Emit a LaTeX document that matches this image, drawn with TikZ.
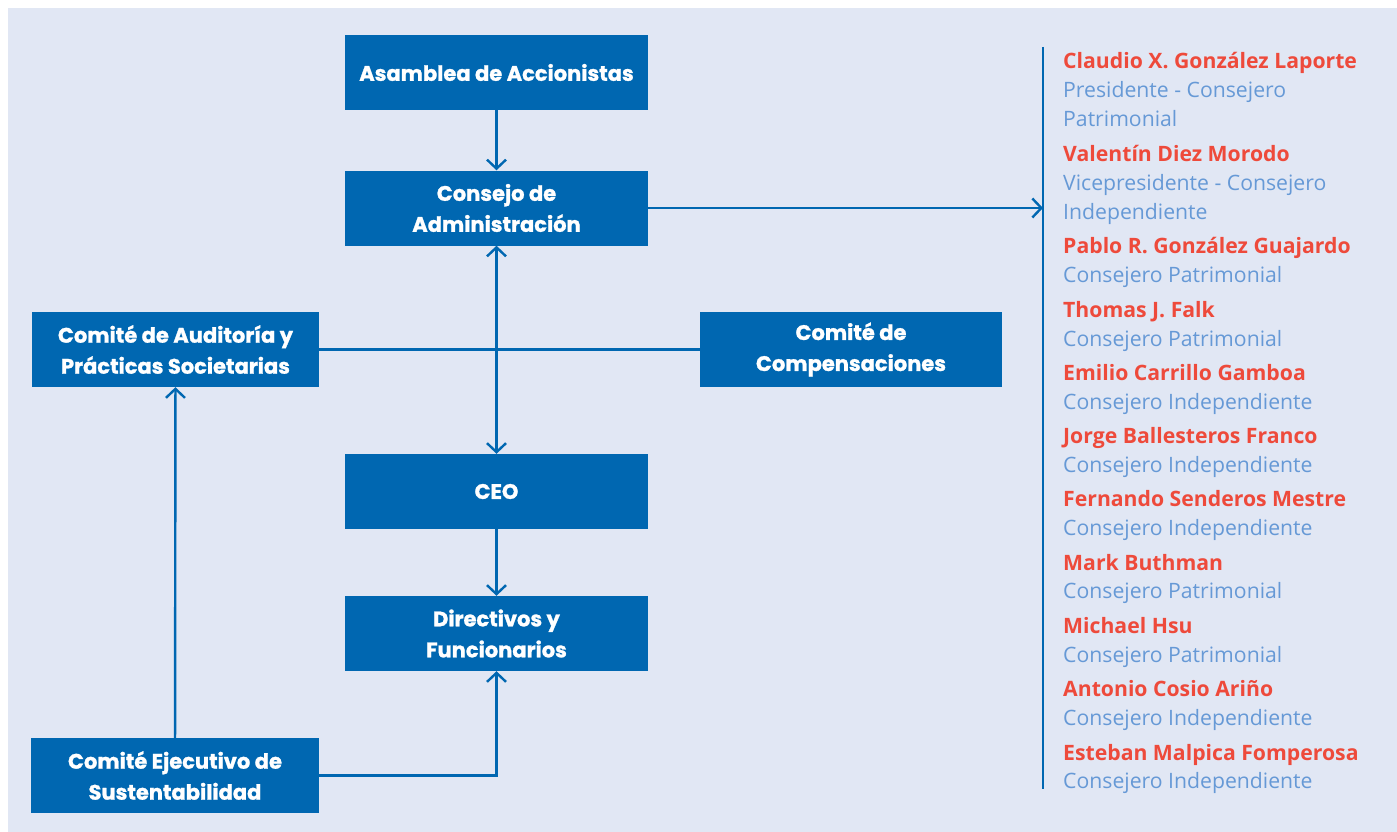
\documentclass[tikz,border=0pt]{standalone}
\usepackage{fontspec}
\setmainfont{Open Sans}
\newfontfamily\boxfont{Poppins}[BoldFeatures={FakeBold=1.2}]
\usetikzlibrary{arrows.meta}
\definecolor{bgc}{HTML}{E1E7F4}
\definecolor{boxc}{HTML}{0067B1}
\definecolor{redc}{HTML}{EE4A3B}
\definecolor{rolec}{HTML}{6699D6}
\tikzset{
  unitbox/.style={fill=boxc, text=white, align=center, inner sep=0pt,
    font=\boxfont\fontsize{21}{31}\selectfont\bfseries},
  wide/.style={unitbox, minimum width=303pt, minimum height=75pt},
  side/.style={unitbox, minimum width=288pt, minimum height=75pt},
  conn/.style={draw=boxc, line width=2.4pt},
  arr/.style={conn, -{Straight Barb[length=9pt, width=19pt, line width=2.4pt]}},
  darr/.style={conn, {Straight Barb[length=9pt, width=19pt, line width=2.4pt]}-{Straight Barb[length=9pt, width=19pt, line width=2.4pt]}},
  nm/.style={anchor=base west, inner sep=0pt, text=redc, font=\fontsize{21.2}{24}\selectfont\bfseries},
  rl/.style={anchor=base west, inner sep=0pt, text=rolec, font=\fontsize{21.2}{24}\selectfont},
}
\begin{document}
\begin{tikzpicture}[x=1pt, y=-1pt]
\useasboundingbox (0,0) rectangle (1397,832);
\fill[white] (0,0) rectangle (1397,832);
\fill[bgc] (8,8) rectangle (1397,832);

\node[wide] (asam) at (496.5,72.5) {Asamblea de Accionistas};
\node[wide] (cons) at (496.5,208) {Consejo de\\Administración};
\node[side, minimum width=287pt] (audit) at (175.5,349.5) {Comité de Auditoría y\\Prácticas Societarias};
\node[wide, minimum width=302pt] (comp) at (851,349.5) {Comité de\\Compensaciones};
\node[wide] (ceo) at (496.5,491.5) {CEO};
\node[wide] (dir) at (496.5,633.5) {Directivos y\\Funcionarios};
\node[side] (ejec) at (175,775.5) {Comité Ejecutivo de\\Sustentabilidad};

\coordinate (bt) at (1043,47);
\coordinate (bb) at (1043,789);
\coordinate (bm) at (1043,208);
\draw[conn] (bt) -- (bb);

\draw[arr] (asam) -- (cons);
\draw[darr] (cons) -- (ceo);
\draw[conn] (audit.east) -- (comp.west);
\draw[arr] (cons.east) -- (bm);
\draw[arr] (ceo) -- (dir);
\draw[arr] (ejec) -- (audit);
\draw[arr] (ejec.east) -| (dir.south);

\node[nm] (n1) at (1063,69) {Claudio X. González Laporte};
\node[rl] (r1a) at (1063,98) {Presidente - Consejero};
\node[rl] (r1b) at (1063,127) {Patrimonial};
\node[nm] (n2) at (1063,161) {Valentín Diez Morodo};
\node[rl] (r2a) at (1063,190) {Vicepresidente - Consejero};
\node[rl] (r2b) at (1063,219) {Independiente};
\node[nm] (n3) at (1063,253) {Pablo R. González Guajardo};
\node[rl] (r3) at (1063,282) {Consejero Patrimonial};
\node[nm] (n4) at (1063,317) {Thomas J. Falk};
\node[rl] (r4) at (1063,346) {Consejero Patrimonial};
\node[nm] (n5) at (1063,380) {Emilio Carrillo Gamboa};
\node[rl] (r5) at (1063,409) {Consejero Independiente};
\node[nm] (n6) at (1063,443) {Jorge Ballesteros Franco};
\node[rl] (r6) at (1063,472) {Consejero Independiente};
\node[nm] (n7) at (1063,506) {Fernando Senderos Mestre};
\node[rl] (r7) at (1063,535) {Consejero Independiente};
\node[nm] (n8) at (1063,570) {Mark Buthman};
\node[rl] (r8) at (1063,598) {Consejero Patrimonial};
\node[nm] (n9) at (1063,633) {Michael Hsu};
\node[rl] (r9) at (1063,662) {Consejero Patrimonial};
\node[nm] (n10) at (1063,696) {Antonio Cosio Ariño};
\node[rl] (r10) at (1063,725) {Consejero Independiente};
\node[nm] (n11) at (1063,760) {Esteban Malpica Fomperosa};
\node[rl] (r11) at (1063,788) {Consejero Independiente};
\end{tikzpicture}
\end{document}
